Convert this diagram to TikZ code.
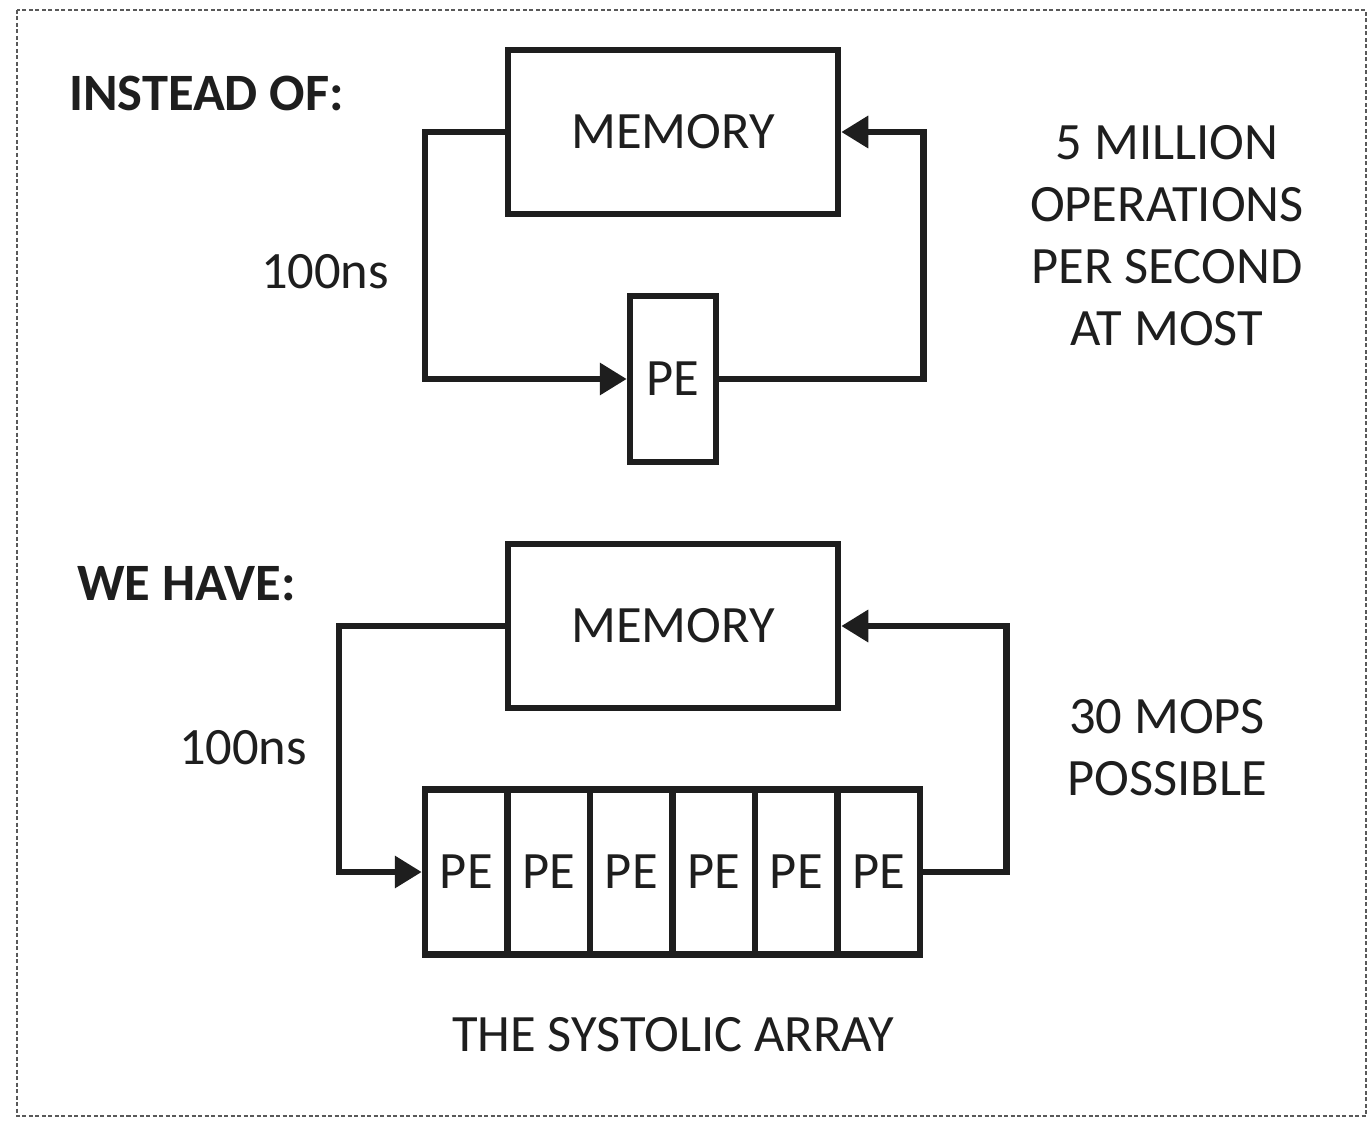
\documentclass[tikz,border=0pt]{standalone}
\usepackage{fontspec}
\setmainfont{Carlito}
\usetikzlibrary{arrows.meta}
\definecolor{ink}{HTML}{1E1E1E}
\tikzset{
  box/.style={draw=ink, line width=6.5pt, fill=white, rectangle, inner sep=0pt},
  conn/.style={draw=ink, line width=6.5pt, -{Triangle[length=27pt,width=31pt]}},
  lbl/.style={text=ink, font=\fontsize{52.5}{62}\selectfont, align=center, inner sep=0pt},
  hdr/.style={text=ink, font=\fontsize{52.5}{62}\selectfont\bfseries, anchor=west, inner sep=0pt},
}
\begin{document}
\begin{tikzpicture}[x=1pt,y=-1pt]
\useasboundingbox (0,0) rectangle (1370,1121);
\fill[white] (0,0) rectangle (1370,1121);
\draw[gray!70!black, line width=2pt, dash pattern=on 4pt off 2.5pt] (17,10) rectangle (1366,1116);

% top part
\node[hdr] (h1) at (69,93) {INSTEAD OF:};
\node[box, minimum width=330pt, minimum height=164pt] (mem1) at (673,132) {};
\node[lbl] (m1t) at (673,132) {MEMORY};
\node[box, minimum width=86pt, minimum height=166pt] (pe1) at (673,379) {};
\node[lbl] (p1t) at (673,379) {PE};
\draw[conn] (mem1.west) -- ++(-80,0) |- (pe1.west);
\draw[conn] (pe1.east) -- ++(204,0) |- (mem1.east);
\node[lbl] (t1) at (325,272) {100ns};
\node[lbl] (r1) at (1167,236) {5 MILLION\\OPERATIONS\\PER SECOND\\AT MOST};

% bottom part
\node[hdr] (h2) at (77,584) {WE HAVE:};
\node[box, minimum width=330pt, minimum height=164pt] (mem2) at (673,626) {};
\node[lbl] (m2t) at (673,626) {MEMORY};
\foreach \i in {1,...,6}{
  \node[box, minimum width=82.5pt, minimum height=165pt] (c\i) at ({425+82.5*(\i-0.5)},872) {};
  \node[lbl] (ct\i) at (c\i) {PE};
}
\draw[conn] (mem2.west) -- ++(-166,0) |- (c1.west);
\draw[conn] (c6.east) -- ++(83,0) |- (mem2.east);
\node[lbl] (t2) at (243,748) {100ns};
\node[lbl] (r2) at (1167,748) {30 MOPS\\POSSIBLE};
\node[lbl] (cap) at (673,1035) {THE SYSTOLIC ARRAY};
\end{tikzpicture}
\end{document}
